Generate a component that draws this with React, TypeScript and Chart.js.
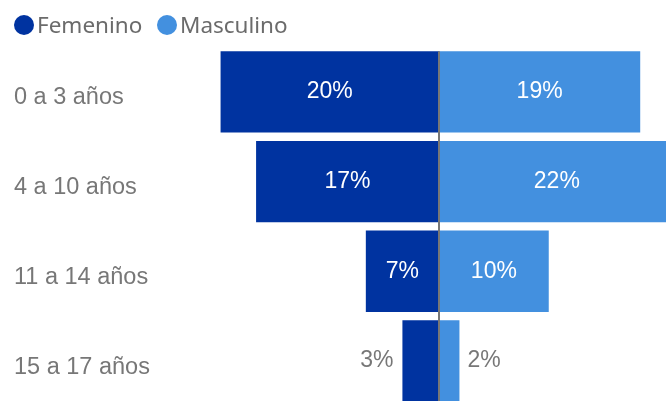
import React, { useEffect, useRef } from "react";
import { Chart, registerables } from "chart.js";

Chart.register(...registerables);

const categories = ["0 a 3 años", "4 a 10 años", "11 a 14 años", "15 a 17 años"];
const seriesNames = ["Femenino", "Masculino"];
const femenino = [20.3, 17.0, 6.8, 3.4];
const masculino = [18.7, 21.9, 10.2, 1.9];

const COLORS = ["#0033A0", "#4390DF"];
const FONT = "'Noto Sans', 'DejaVu Sans', sans-serif";
const ARIAL = "'Liberation Sans', Arial, sans-serif";

const labelPlugin = {
  id: "barLabels",
  afterDatasetsDraw(chart: any) {
    const ctx = chart.ctx;
    const area = chart.chartArea;
    const x0 = chart.scales.x.getPixelForValue(0);
    const first = chart.getDatasetMeta(0).data[0];
    const top = first.y - first.height / 2;
    ctx.save();
    ctx.strokeStyle = "#777777";
    ctx.lineWidth = 2;
    ctx.beginPath();
    ctx.moveTo(x0, top);
    ctx.lineTo(x0, area.bottom);
    ctx.stroke();

    ctx.font = `23px ${ARIAL}`;
    ctx.textBaseline = "middle";
    chart.data.datasets.forEach((ds: any, di: number) => {
      const meta = chart.getDatasetMeta(di);
      meta.data.forEach((bar: any, i: number) => {
        const v = ds.data[i];
        const text = Math.round(Math.abs(v)) + "%";
        const w = ctx.measureText(text).width;
        const { x, base, y } = bar.getProps(["x", "base", "y"], true);
        const bw = Math.abs(x - base);
        const ty = y;
        if (w + 10 <= bw) {
          ctx.fillStyle = "#ffffff";
          ctx.textAlign = "center";
          ctx.fillText(text, (x + base) / 2, ty);
        } else {
          ctx.fillStyle = "#777777";
          if (v < 0) {
            ctx.textAlign = "right";
            ctx.fillText(text, Math.min(x, base) - 9, ty);
          } else {
            ctx.textAlign = "left";
            ctx.fillText(text, Math.max(x, base) + 8, ty);
          }
        }
      });
    });
    ctx.restore();
  },
};

export default function App() {
  const ref = useRef<HTMLCanvasElement | null>(null);

  useEffect(() => {
    if (!ref.current) return;
    const chart = new Chart(ref.current, {
      type: "bar",
      data: {
        labels: categories,
        datasets: [
          {
            label: seriesNames[0],
            data: femenino.map((v) => -v),
            backgroundColor: COLORS[0],
            borderWidth: 0,
            barPercentage: 0.907,
            categoryPercentage: 1,
          },
          {
            label: seriesNames[1],
            data: masculino,
            backgroundColor: COLORS[1],
            borderWidth: 0,
            barPercentage: 0.907,
            categoryPercentage: 1,
          },
        ],
      },
      options: {
        responsive: false,
        animation: false,
        indexAxis: "y",
        layout: { padding: { left: 14, top: 47, bottom: 10, right: 0 } },
        plugins: { legend: { display: false }, tooltip: { enabled: false } },
        scales: {
          x: { display: false, min: -25, max: 25, stacked: true },
          y: {
            stacked: true,
            grid: { display: false },
            border: { display: false },
            ticks: {
              crossAlign: "far",
              color: "#777777",
              font: { family: ARIAL, size: 23.5 },
              padding: 0,
              labelOffset: 6,
            },
            afterFit: (s: any) => {
              s.width = 156;
            },
          },
        },
      },
      plugins: [labelPlugin],
    } as any);
    return () => chart.destroy();
  }, []);

  const legendText: React.CSSProperties = {
    position: "absolute",
    top: 15,
    height: 20,
    lineHeight: "20px",
    fontFamily: FONT,
    fontSize: 22.5,
    color: "#6b6b6b",
    whiteSpace: "nowrap",
  };
  const dot = (left: number, color: string): React.CSSProperties => ({
    position: "absolute",
    left,
    top: 15,
    width: 20,
    height: 20,
    borderRadius: "50%",
    background: color,
  });

  return (
    <div
      style={{
        position: "fixed",
        left: 0,
        top: 0,
        width: 666,
        height: 401,
        overflow: "hidden",
        background: "#ffffff",
      }}
    >
      <canvas
        ref={ref}
        width={708}
        height={420}
        style={{ position: "absolute", left: 0, top: 0, width: 708, height: 420 }}
      />
      <div style={dot(13.5, COLORS[0])} />
      <div style={{ ...legendText, left: 37 }}>{seriesNames[0]}</div>
      <div style={dot(156.5, COLORS[1])} />
      <div style={{ ...legendText, left: 180 }}>{seriesNames[1]}</div>
    </div>
  );
}
